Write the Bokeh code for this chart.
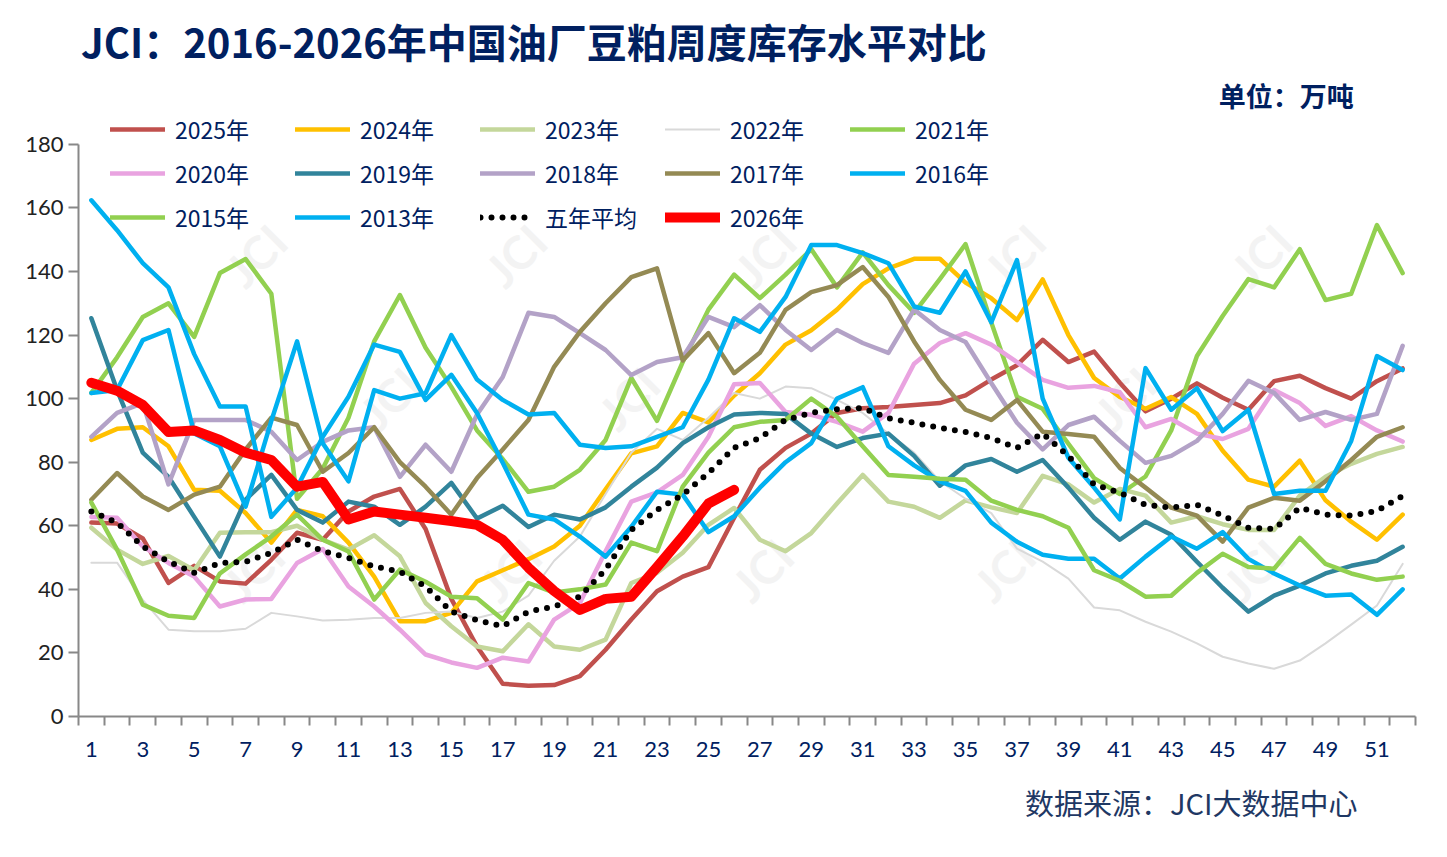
from bokeh.plotting import figure
from bokeh.models import Legend, LegendItem, FixedTicker, Label, Range1d, Title
from bokeh.core.properties import value
from bokeh.embed import file_html
from bokeh.resources import INLINE

weeks = list(range(1, 53))
odd_weeks = list(range(1, 53, 2))

y2025 = [61, 60.7, 56, 42, 47.4, 42.5, 41.8, 49.3, 57.8, 55.6,
         64.5, 69.2, 71.6, 59, 37, 22, 10.3, 9.7, 9.9, 12.7,
         21, 30.5, 39.4, 44, 47, 62.5, 77.6, 84.5, 89, 95.5,
         97, 97.4, 98, 98.6, 101, 106, 110.5, 118.5, 111.5, 114.8,
         105, 96, 100, 104.8, 100.3, 96.5, 105.5, 107.2, 103.3, 100,
         105.5, 109.5]
y2024 = [87, 90.5, 91, 85, 71.3, 71, 64, 54.7, 65, 63,
         54.7, 44, 30, 30, 32.6, 42.5, 46, 49.5, 53.5, 60,
         71.5, 82.8, 85, 95.5, 92.5, 101, 108, 117, 121.5, 128,
         136, 141, 144, 144, 136.5, 131.6, 124.7, 137.5, 120, 106.5,
         100.5, 96.8, 100.5, 95.2, 83.6, 74.5, 72.3, 80.5, 68, 61.3,
         55.6, 63.5]
y2023 = [59.4, 52.5, 48, 50.5, 46, 57.8, 58, 58, 60, 55.6,
         52.5, 57, 50.4, 35.7, 28.4, 22, 20.5, 29, 22, 21,
         24.2, 42, 45.2, 51.5, 60.3, 65.6, 55.6, 52, 57.7, 67,
         76, 67.6, 66, 62.5, 68, 65.8, 64, 75.7, 73, 67.3,
         71.6, 69.5, 61, 63, 60.5, 58.7, 58.7, 69.5, 75.4, 79.5,
         82.6, 84.8]
y2022 = [48.4, 48.4, 36.7, 27.3, 26.8, 26.8, 27.6, 32.6, 31.5, 30.2,
         30.4, 31, 31, 32.6, 33, 31, 33, 38, 49, 56.6,
         70, 83, 90.5, 87, 94, 101.8, 100, 103.8, 103.3, 99.6,
         95.5, 89, 83, 74, 68.5, 64, 52.8, 48.7, 43.4, 34.3,
         33.4, 29.8, 26.7, 23, 18.8, 16.7, 15, 17.6, 23, 28.9,
         34.9, 48]
y2021 = [101.8, 113, 125.7, 130, 119.4, 139.5, 143.9, 133, 68.5, 78,
         94, 118, 132.6, 116, 103.7, 90, 81, 70.7, 72.3, 77.6,
         87, 106.5, 93, 111.5, 128, 139, 131.6, 139, 147, 135,
         146, 135.7, 127, 137.6, 148.6, 124, 100.6, 96.8, 85.8, 75,
         70, 75.5, 90, 113.4, 126, 137.6, 135, 147, 131, 133,
         154.6, 139.5]
y2020 = [62.8, 62.5, 53.5, 48.3, 44, 34.6, 36.8, 37, 48.3, 52.7,
         40.9, 34.6, 27.3, 19.5, 17, 15.3, 18.5, 17.3, 30.5, 35.7,
         52, 67.6, 70.5, 76, 88, 104.5, 104.9, 95.8, 94.9, 92.7,
         89.6, 95.5, 111, 117.5, 120.6, 117, 111.5, 105.9, 103.4, 104,
         102, 91, 93.6, 89, 87.3, 90.5, 102.7, 98.6, 91.4, 94.5,
         90, 86.5]
y2019 = [125.3, 102.7, 83, 75.4, 62.8, 50.3, 68.2, 76, 65, 61,
         67.6, 66, 60.3, 66, 73.5, 62.3, 66.3, 59.6, 63.5, 62,
         65.8, 72.3, 78.3, 86, 91, 95, 95.5, 95.2, 89, 84.8,
         87.6, 89, 82, 72.6, 79, 81, 77, 80.7, 72, 62.5,
         55.6, 61.3, 57.2, 48.7, 40.5, 33, 38, 41.2, 45, 47.4,
         49, 53.4]
y2018 = [88, 95.5, 98.6, 73, 93.3, 93.3, 93.3, 89.6, 80.7, 86.4,
         90, 91, 75.4, 85.5, 77, 95, 106.8, 127, 125.7, 120.6,
         115.3, 107.4, 111.5, 113, 125.7, 122.5, 129.4, 121.6, 115.3, 121.6,
         117.5, 114.4, 128, 121.6, 117.8, 104.9, 92.4, 84, 91.7, 94.3,
         86.7, 79.8, 82, 86.7, 95.2, 105.6, 101.8, 93.3, 95.8, 93.3,
         95.2, 116.6]
y2017 = [68.2, 76.6, 69.2, 65, 69.8, 72.3, 84, 94, 91.7, 77,
         82.9, 91, 80, 72.3, 63.5, 75, 84, 93.3, 110, 121,
         130, 138.2, 141, 112, 120.6, 108, 114.4, 127.9, 133.5, 135.7,
         141.4, 132, 118, 105.9, 96.5, 93.3, 99.6, 89.6, 88.9, 88,
         78.2, 72, 65.7, 63.2, 55, 65.7, 68.8, 67.9, 74, 80.7,
         88, 91]
y2016 = [162.4, 153, 142.6, 135, 114, 97.5, 97.5, 62.8, 72, 88,
         100.6, 117, 114.7, 99.6, 107.5, 95.5, 79.8, 63.5, 62, 56.6,
         50.3, 59.7, 70.7, 69.8, 58, 63, 72, 80, 86, 100,
         103.6, 85, 79, 74, 71, 61, 55, 50.9, 49.6, 49.6,
         43.4, 50.3, 56.6, 52.8, 58, 49.6, 45, 41.2, 38, 38.4,
         32, 40]
y2015 = [67.3, 52.5, 35.2, 31.7, 31, 45, 51, 56.6, 63.5, 55.6,
         51.9, 36.8, 46.2, 42.4, 37.7, 37.2, 30.5, 42, 39, 40,
         41.5, 54.7, 52, 72.3, 83, 91, 92.7, 93.3, 100, 94.3,
         85, 76, 75.4, 74.8, 74.5, 67.9, 65, 63, 59.4, 46,
         42.7, 37.7, 38, 45.2, 51.2, 47, 46.5, 56.2, 48, 45,
         43, 44]
y2013 = [101.8, 102.7, 118.4, 121.6, 89, 85, 66, 93, 118, 86,
         74, 102.7, 100, 101.7, 120, 106, 99.6, 95, 95.5, 85.5,
         84.5, 85, 88, 91, 106, 125.3, 121, 132, 148.3, 148.3,
         145.8, 142.6, 129, 127, 140, 124, 143.6, 100, 81.4, 72,
         62, 109.6, 96.5, 103.3, 89.8, 96.5, 70, 71, 71, 86.7,
         113.4, 109]
avg5 = [64.5, 61, 53.5, 48.7, 45.2, 48.3, 48.7, 51.5, 55.6, 52,
        49.9, 47.2, 45.6, 40.9, 33, 30.3, 28.4, 33, 34.6, 37.7,
        46.2, 58.7, 65, 69.8, 76.6, 84.5, 87.6, 93.3, 95.5, 96.7,
        97, 93.8, 92.4, 90.8, 89.5, 87.6, 84.5, 89, 82, 73,
        70.4, 66.6, 65.7, 66.6, 63.2, 59.4, 59, 65.7, 63.5, 63.2,
        64.7, 69.4]
y2026 = [105, 102.5, 98, 89.5, 90, 87, 83, 80.7, 72.3, 73.8,
         62, 64.5, 63.5, 62.5, 61.5, 60.3, 55.6, 46.8, 39.5, 33.5,
         37, 37.7, 47, 56.6, 67, 71.3]

# faint JCI watermark positions (week, value)
wm_x = [7.4, 17.5, 27.2, 36.9, 46.5, 12.6, 21.9, 41.2, 7.3, 17.3, 27.1, 36.5, 46.2]
wm_y = [145, 145, 145, 145, 145, 100, 100, 100, 46, 46, 46, 46, 46]

NAVY = "#002060"
CJK = "Noto Sans CJK SC"

# frame reaches the top of the canvas so the title and legend are not clipped;
# the y axis itself only spans 0-180
p = figure(width=1431, height=841, output_backend="svg", toolbar_location=None,
           x_range=Range1d(0.5, 52.5), y_range=Range1d(0, 225.25),
           min_border_left=78, min_border_right=16, min_border_top=0, min_border_bottom=124)
p.outline_line_color = None
p.grid.visible = False

p.text(x=wm_x, y=wm_y, text=["JCI"] * len(wm_x), angle=0.785,
       text_font=value("Lato"), text_font_size="46px", text_font_style="bold",
       text_color="#F3F3F3", text_align="center", text_baseline="middle")

series = [
    ("2025年", y2025, "#C0504D", 4.5, None),
    ("2024年", y2024, "#FFC000", 4.5, None),
    ("2023年", y2023, "#C4D79B", 4.5, None),
    ("2022年", y2022, "#D9D9D9", 2, None),
    ("2021年", y2021, "#92D050", 4.5, None),
    ("2020年", y2020, "#E9A3E0", 4.5, None),
    ("2019年", y2019, "#31849B", 4.5, None),
    ("2018年", y2018, "#B3A2C7", 4.5, None),
    ("2017年", y2017, "#948A54", 4.5, None),
    ("2016年", y2016, "#00B0F0", 4.5, None),
    ("2015年", y2015, "#92D050", 4.5, None),
    ("2013年", y2013, "#00B0F0", 4.5, None),
    ("五年平均", avg5, "#000000", 6, "0 11"),
    ("2026年", y2026, "#FF0000", 10, None),
]

items = []
for name, ys, color, lw, dash in series:
    xs = weeks[:len(ys)]
    if dash:
        r = p.line(xs, ys, line_color=color, line_width=lw, line_dash=dash, line_cap="round")
    else:
        r = p.line(xs, ys, line_color=color, line_width=lw, line_join="round", line_cap="round")
    items.append(LegendItem(label=name, renderers=[r]))

legend = Legend(items=items, location=(32, 482), orientation="horizontal", ncols=5,
                glyph_width=55, glyph_height=34, label_width=110, label_height=34,
                label_standoff=10, spacing=10, padding=0, margin=0,
                label_text_font=CJK, label_text_font_size="23px", label_text_color=NAVY,
                background_fill_alpha=0, border_line_alpha=0)
p.add_layout(legend)

# axes
p.yaxis.bounds = (0, 180)
p.yaxis.ticker = FixedTicker(ticks=list(range(0, 181, 20)))
p.yaxis.major_tick_out = 10
p.yaxis.major_tick_in = 0
p.yaxis.minor_tick_line_color = None
p.yaxis.major_label_standoff = 5
p.yaxis.major_label_text_font = "Lato"
p.yaxis.major_label_text_font_size = "22px"
p.yaxis.major_label_text_color = "#222222"

p.xaxis.ticker = FixedTicker(ticks=odd_weeks, minor_ticks=[w - 0.5 for w in weeks + [53]])
p.xaxis.major_tick_out = 0
p.xaxis.major_tick_in = 0
p.xaxis.minor_tick_out = 9
p.xaxis.minor_tick_in = 0
p.xaxis.minor_tick_line_width = 2
p.xaxis.minor_tick_line_color = "#888888"
p.xaxis.major_label_standoff = 16
p.xaxis.major_label_text_font = "Lato"
p.xaxis.major_label_text_font_size = "22px"
p.xaxis.major_label_text_color = NAVY

for ax in (p.xaxis, p.yaxis):
    ax.axis_line_color = "#888888"
    ax.axis_line_width = 2
    ax.major_tick_line_color = "#888888"
    ax.major_tick_line_width = 2

p.add_layout(Label(x=0.6, y=212.5, text="JCI：2016-2026年中国油厂豆粕周度库存水平对比",
                   text_font=CJK, text_font_size="40px", text_font_style="bold",
                   text_color=NAVY, text_baseline="middle"))
p.add_layout(Label(x=50.1, y=195.4, text="单位：万吨", text_font=CJK, text_font_size="27px",
                   text_font_style="bold", text_color=NAVY,
                   text_align="right", text_baseline="middle"))
p.add_layout(Title(text="数据来源：JCI大数据中心", align="right", offset=58, standoff=38,
                   text_font=CJK, text_font_size="29px", text_font_style="normal",
                   text_color="#1F3864"), "below")

open("out.html", "w").write(file_html(p, INLINE))
